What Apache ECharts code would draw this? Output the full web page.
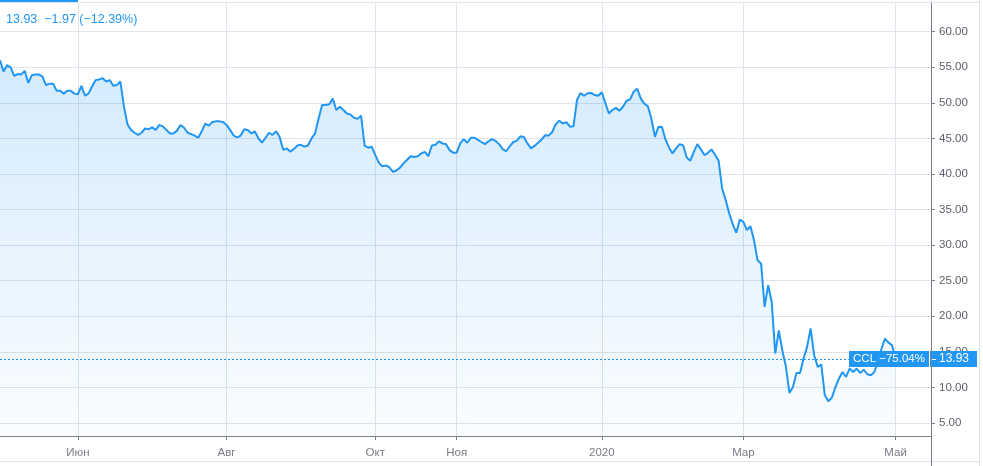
<!DOCTYPE html>
<html><head><meta charset="utf-8">
<script src="https://cdn.jsdelivr.net/npm/echarts@6/dist/echarts.min.js"></script>
<style>html,body{margin:0;padding:0;background:#fff}#c{width:983px;height:466px}</style>
</head><body><div id="c"></div>
<script>
// Month labels (one group per calendar month of trading days)
const monthLabels = ['Май','Июн','Июл','Авг','Сен','Окт','Ноя','Дек','2020','Фев','Мар','Апр','Май'];
const shownMonths = [false,true,false,true,false,true,true,false,true,false,true,false,true];

// Daily closes, one array per month
const may19 = [56.0,54.4,55.3,55.0,53.8,54.05,54.0,54.5,52.8,53.9,54.0,54.0,53.7,52.5,52.7,52.7,51.7,51.7,51.3,51.7,51.7,51.3];
const jun19 = [51.2,52.4,51.0,51.3,52.3,53.2,53.3,53.45,53.0,53.2,52.4,52.5,53.0,49.5,47.0,46.2,45.8,45.5,45.8,46.4];
const jul19 = [46.3,46.55,46.2,46.9,46.7,46.2,45.7,45.7,46.1,46.9,46.5,45.8,45.6,45.4,45.1,46.0,47.1,46.8,47.3,47.4,47.4,47.3];
const aug19 = [46.9,46.2,45.4,45.15,45.4,46.3,46.2,45.7,46.0,45.0,44.4,45.1,45.8,45.5,46.0,45.2,43.4,43.6,43.15,43.5,44.0,44.1];
const sep19 = [43.85,44.0,45.0,45.7,47.8,49.7,49.7,49.8,50.6,49.0,49.45,49.0,48.5,48.35,47.9,47.75,48.2,44.0,43.7,43.83];
const oct19 = [42.7,41.6,41.1,41.2,40.95,40.3,40.5,40.9,41.5,42.0,42.5,42.4,42.5,42.9,43.1,42.5,44.0,44.1,44.6,44.3,44.2,43.35,43.0];
const nov19 = [43.0,44.3,44.9,44.4,45.1,45.1,44.8,44.5,44.2,44.6,44.9,44.65,44.2,43.5,43.2,43.9,44.5,44.7,45.3,45.2];
const dec19 = [44.3,43.6,43.95,44.4,44.85,45.45,45.4,45.9,47.0,47.5,47.1,47.3,46.65,46.7,50.4,51.4,51.0,51.35,51.4,51.1,51.0];
const jan20 = [51.5,50.0,48.5,49.0,49.3,48.9,49.45,50.3,50.5,51.56,52.0,50.63,49.9,49.55,47.8,45.23,46.64,46.6,44.86,43.7,42.9];
const feb20 = [43.6,44.2,44.0,42.33,41.86,43.12,44.2,43.46,42.66,42.98,43.46,42.7,41.86,37.97,36.33,34.45,32.95,31.73,33.6];
const mar20 = [33.27,32.1,32.67,30.7,27.89,27.42,21.32,24.37,22.0,14.76,18.0,15.2,12.97,9.22,10.06,12.03,12.03,14.06,15.7,18.28,14.52,12.88];
const apr20 = [13.2,8.9,8.05,8.57,10.06,11.24,12.17,11.47,12.65,12.17,12.65,12.03,12.5,11.85,11.7,12.17,13.6,15.4,16.87,16.3,15.93];
const may20 = [13.93];
const padDays = 10; // empty space to the right of the last bar

const yTicks = [5,10,15,20,25,30,35,40,45,50,55,60];
const yMin = 3.17, yMax = 64.18;

const symbol = 'CCL';
const lastPrice = 13.93;
const lastChange = '−1.97';
const lastChangePct = '−12.39%';
const periodChangePct = '−75.04%';

const months = [may19,jun19,jul19,aug19,sep19,oct19,nov19,dec19,jan20,feb20,mar20,apr20,may20];
const categories = [];
const values = [];
const labelIdx = new Set();
months.forEach((arr, m) => {
  arr.forEach((v, k) => {
    if (k === 0 && shownMonths[m]) labelIdx.add(categories.length);
    categories.push(monthLabels[m] + '|' + m + '|' + k);
    values.push(v);
  });
});
for (let k = 0; k < padDays; k++) categories.push('pad|' + k);

const blue = '#2196f3';
const gridColor = '#e0e3eb';
const axisColor = '#7b7e88';
const textColor = '#5d606b';
const font = 'Liberation Sans, Arial, sans-serif';

const chart = echarts.init(document.getElementById('c'), null, {renderer: 'canvas'});
const showFn = (i) => labelIdx.has(i);
chart.setOption({
  animation: false,
  grid: {left: 0, right: 52, top: 2, bottom: 30, containLabel: false},
  xAxis: {
    type: 'category', data: categories, boundaryGap: false,
    axisLine: {show: true, lineStyle: {color: axisColor, width: 1}},
    axisTick: {show: true, interval: showFn, length: 4, lineStyle: {color: axisColor}},
    axisLabel: {interval: showFn, formatter: v => v.split('|')[0], color: '#787b86', fontSize: 11.5, fontFamily: font, margin: 11},
    splitLine: {show: true, interval: showFn, lineStyle: {color: gridColor, width: 1}}
  },
  yAxis: {
    type: 'value', position: 'right', min: yMin, max: yMax, scale: true,
    axisLine: {show: true, lineStyle: {color: axisColor, width: 1}},
    axisTick: {show: true, length: 4, customValues: yTicks, lineStyle: {color: axisColor}},
    axisLabel: {customValues: yTicks, formatter: v => v.toFixed(2), color: textColor, fontSize: 11.5, fontFamily: font, margin: 8},
    splitLine: {show: true, lineStyle: {color: gridColor, width: 1}}
  },
  series: [{
    type: 'line', data: values, showSymbol: false, symbol: 'none',
    lineStyle: {color: blue, width: 2},
    areaStyle: {color: new echarts.graphic.LinearGradient(0, 0, 0, 1, [
      {offset: 0, color: 'rgba(33,150,243,0.28)'},
      {offset: 1, color: 'rgba(33,150,243,0.03)'}
    ])}
  }]
});

// price line position derived from the y scale
const py = Math.round(chart.convertToPixel({yAxisIndex: 0}, lastPrice));
chart.setOption({
  graphic: [
    {type: 'rect', left: 0, top: 0, shape: {width: 78, height: 2}, style: {fill: blue}, z: 100},
    {type: 'line', shape: {x1: 0, y1: 2.5, x2: 979, y2: 2.5}, style: {stroke: gridColor, lineWidth: 1}, z: 99},
    {type: 'line', shape: {x1: 979.5, y1: 0, x2: 979.5, y2: 466}, style: {stroke: gridColor, lineWidth: 1}, z: 99},
    {type: 'line', shape: {x1: 0, y1: 461.5, x2: 979, y2: 461.5}, style: {stroke: gridColor, lineWidth: 1}, z: 99},
    {type: 'line', shape: {x1: 931.5, y1: 436, x2: 931.5, y2: 466}, style: {stroke: axisColor, lineWidth: 1}, z: 99},
    {type: 'line', z: 90, shape: {x1: 0, y1: py + 0.5, x2: 849, y2: py + 0.5}, style: {stroke: blue, lineWidth: 1, lineDash: [2, 2]}},
    {type: 'text', left: 6, top: 13, z: 100,
      style: {text: lastPrice.toFixed(2) + '  ' + lastChange + ' (' + lastChangePct + ')', fill: blue, font: '12.5px ' + font}},
    {type: 'rect', z: 100, shape: {x: 849, y: py - 8, width: 80, height: 16}, style: {fill: blue}},
    {type: 'text', z: 101, x: 889, y: py, style: {text: symbol + ' ' + periodChangePct, fill: '#fff', font: '11.5px ' + font, align: 'center', verticalAlign: 'middle'}},
    {type: 'rect', z: 100, shape: {x: 930, y: py - 8, width: 47, height: 16}, style: {fill: blue}},
    {type: 'line', z: 101, shape: {x1: 931.5, y1: py - 8, x2: 931.5, y2: py + 8}, style: {stroke: axisColor, lineWidth: 1}},
    {type: 'line', z: 101, shape: {x1: 932, y1: py + 0.5, x2: 936, y2: py + 0.5}, style: {stroke: '#fff', lineWidth: 1}},
    {type: 'text', z: 101, x: 954, y: py, style: {text: lastPrice.toFixed(2), fill: '#fff', font: '12px ' + font, align: 'center', verticalAlign: 'middle'}}
  ]
});
</script>
</body></html>
